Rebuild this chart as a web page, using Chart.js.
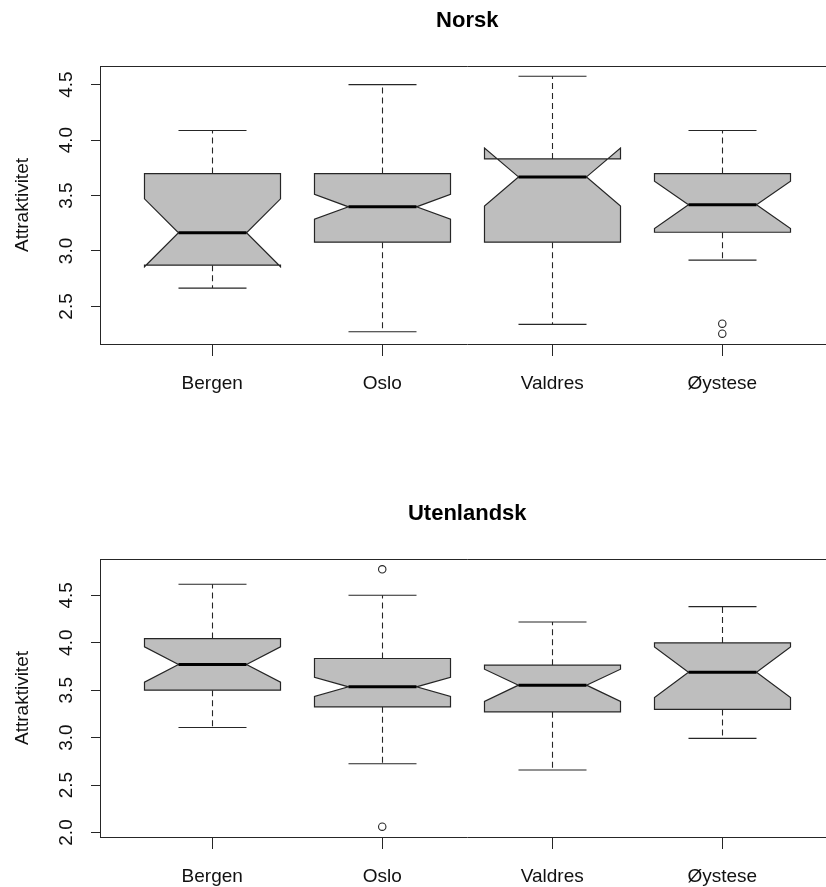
<!DOCTYPE html>
<html>
<head>
<meta charset="utf-8">
<script src="https://cdn.jsdelivr.net/npm/chart.js@4.4.1/dist/chart.umd.min.js"></script>
<style>
  html, body { margin: 0; padding: 0; background: #fff; }
  body { position: relative; width: 826px; height: 887px; overflow: hidden; }
  .panel { position: absolute; left: 0; width: 845px; height: 443px; }
  #panelNorsk { top: 0; }
  #panelUten { top: 493px; }
</style>
</head>
<body>
<div class="panel" id="panelNorsk"><canvas id="norsk" width="845" height="443"></canvas></div>
<div class="panel" id="panelUten"><canvas id="uten" width="845" height="443"></canvas></div>
<script>
// Groups on the x axis
const categories = ['Bergen', 'Oslo', 'Valdres', 'Øystese'];

// Norsk: whisker ends, quartiles, medians, notch limits and outliers
const norskLower     = [2.665, 2.272, 2.338, 2.917];
const norskQ1        = [2.872, 3.079, 3.079, 3.169];
const norskMedian    = [3.164, 3.398, 3.668, 3.416];
const norskQ3        = [3.698, 3.698, 3.830, 3.698];
const norskUpper     = [4.086, 4.500, 4.575, 4.086];
const norskNotchLow  = [2.858, 3.286, 3.406, 3.203];
const norskNotchHigh = [3.470, 3.510, 3.928, 3.629];
const norskOutliers  = [[], [], [], [2.344, 2.254]];
const norskTicks     = [2.5, 3.0, 3.5, 4.0, 4.5];

// Utenlandsk
const utenLower     = [3.107, 2.724, 2.658, 2.992];
const utenQ1        = [3.500, 3.324, 3.272, 3.297];
const utenMedian    = [3.770, 3.535, 3.553, 3.689];
const utenQ3        = [4.044, 3.834, 3.763, 3.998];
const utenUpper     = [4.616, 4.500, 4.219, 4.381];
const utenNotchLow  = [3.584, 3.433, 3.381, 3.423];
const utenNotchHigh = [3.956, 3.635, 3.721, 3.956];
const utenOutliers  = [[], [4.774, 2.061], [], []];
const utenTicks     = [2.0, 2.5, 3.0, 3.5, 4.0, 4.5];

const FONT = '"Liberation Sans", Arial, Helvetica, sans-serif';
const LINE = '#262626';
const BOX_FILL = '#bebebe';

// Draws the notched boxes, whiskers and staples from the stats arrays,
// plus the rotated y tick labels, the y title and the frame's top edge.
const notchedBoxPlugin = {
  id: 'notchedBoxes',
  beforeDatasetsDraw(chart, args, opts) {
    const { ctx, chartArea } = chart;
    const xs = chart.scales.x, ys = chart.scales.y;
    const s = opts.stats;
    ctx.save();
    ctx.beginPath();
    ctx.rect(chartArea.left, chartArea.top, chartArea.right - chartArea.left, chartArea.bottom - chartArea.top);
    ctx.clip();
    for (let i = 0; i < categories.length; i++) {
      const cx = Math.round(xs.getPixelForValue(i + 1)) + 0.5;
      const hw = xs.getPixelForValue(i + 1 + 0.4) - xs.getPixelForValue(i + 1);   // half box width
      const sw = xs.getPixelForValue(i + 1 + 0.2) - xs.getPixelForValue(i + 1);   // half staple width
      const py = v => ys.getPixelForValue(v);
      const lo = py(s.lower[i]), q1 = py(s.q1[i]), md = py(s.median[i]);
      const q3 = py(s.q3[i]), hi = py(s.upper[i]);
      const nl = py(s.notchLow[i]), nh = py(s.notchHigh[i]);

      // dashed whiskers
      ctx.strokeStyle = LINE;
      ctx.lineWidth = 1.1;
      ctx.setLineDash([6, 4]);
      ctx.beginPath();
      ctx.moveTo(cx, q1); ctx.lineTo(cx, lo);
      ctx.moveTo(cx, q3); ctx.lineTo(cx, hi);
      ctx.stroke();
      ctx.setLineDash([]);

      // staples
      ctx.beginPath();
      ctx.moveTo(cx - sw, lo); ctx.lineTo(cx + sw, lo);
      ctx.moveTo(cx - sw, hi); ctx.lineTo(cx + sw, hi);
      ctx.stroke();

      // notched box
      const pts = [
        [cx - hw, q1], [cx - hw, nl], [cx - hw / 2, md], [cx - hw, nh], [cx - hw, q3],
        [cx + hw, q3], [cx + hw, nh], [cx + hw / 2, md], [cx + hw, nl], [cx + hw, q1]
      ];
      ctx.beginPath();
      pts.forEach((p, k) => k ? ctx.lineTo(p[0], p[1]) : ctx.moveTo(p[0], p[1]));
      ctx.closePath();
      ctx.fillStyle = BOX_FILL;
      ctx.fill();
      ctx.strokeStyle = LINE;
      ctx.lineWidth = 1.2;
      ctx.stroke();

      // median
      ctx.beginPath();
      ctx.moveTo(cx - hw / 2, md); ctx.lineTo(cx + hw / 2, md);
      ctx.strokeStyle = '#000';
      ctx.lineWidth = 3;
      ctx.lineCap = 'butt';
      ctx.stroke();
    }
    ctx.restore();
  },
  afterDraw(chart, args, opts) {
    const { ctx, chartArea } = chart;
    const ys = chart.scales.y;
    ctx.save();
    // top and right edges of the frame
    ctx.strokeStyle = LINE;
    ctx.lineWidth = 1;
    ctx.beginPath();
    ctx.moveTo(chartArea.left, Math.round(chartArea.top) + 0.5);
    ctx.lineTo(chartArea.right, Math.round(chartArea.top) + 0.5);
    ctx.lineTo(chartArea.right, chartArea.bottom);
    ctx.stroke();

    // rotated y tick labels
    ctx.fillStyle = '#111';
    ctx.font = '19px ' + FONT;
    ctx.textAlign = 'center';
    ctx.textBaseline = 'middle';
    opts.ticks.forEach(v => {
      const y = ys.getPixelForValue(v);
      ctx.save();
      ctx.translate(67, y);
      ctx.rotate(-Math.PI / 2);
      ctx.fillText(v.toFixed(1), 0, 0);
      ctx.restore();
    });

    // y axis title
    ctx.save();
    ctx.translate(23, (chartArea.top + chartArea.bottom) / 2);
    ctx.rotate(-Math.PI / 2);
    ctx.fillText('Attraktivitet', 0, 0);
    ctx.restore();
    ctx.restore();
  }
};

function yRange(lower, upper, outliers) {
  const vals = [].concat(lower, upper, ...outliers);
  const mn = Math.min(...vals), mx = Math.max(...vals);
  const pad = (mx - mn) * 0.04;
  return [mn - pad, mx + pad];
}

function makeChart(canvasId, title, stats, outliers, ticks) {
  const [ymin, ymax] = yRange(stats.lower, stats.upper, outliers);
  const outlierPoints = [];
  outliers.forEach((list, i) => list.forEach(v => outlierPoints.push({ x: i + 1, y: v })));

  return new Chart(document.getElementById(canvasId), {
    type: 'scatter',
    data: {
      datasets: [{
        label: 'outliers',
        data: outlierPoints,
        pointStyle: 'circle',
        pointRadius: 3.7,
        pointHoverRadius: 3.7,
        pointBackgroundColor: 'rgba(255,255,255,0)',
        pointBorderColor: LINE,
        pointBorderWidth: 1.1
      }]
    },
    options: {
      responsive: false,
      animation: false,
      events: [],
      layout: { padding: { left: 0, right: 10.5, top: 0, bottom: 0 } },
      plugins: {
        legend: { display: false },
        tooltip: { enabled: false },
        title: {
          display: true,
          text: title,
          fullSize: false,
          color: '#000',
          font: { family: FONT, size: 22, weight: 'bold', lineHeight: 1.2 },
          padding: { top: 8, bottom: 31.6 }
        },
        notchedBoxes: { stats, ticks }
      },
      scales: {
        x: {
          type: 'linear',
          min: 0.34,
          max: 4.66,
          afterBuildTicks: scale => { scale.ticks = categories.map((c, i) => ({ value: i + 1 })); },
          afterFit: scale => { scale.height = 99; },
          ticks: {
            callback: v => categories[Math.round(v) - 1],
            autoSkip: false,
            maxRotation: 0,
            minRotation: 0,
            padding: 16,
            color: '#111',
            font: { family: FONT, size: 19 }
          },
          grid: { display: true, drawOnChartArea: false, drawTicks: true, tickLength: 12, color: LINE, lineWidth: 1 },
          border: { display: true, color: LINE, width: 1 }
        },
        y: {
          type: 'linear',
          min: ymin,
          max: ymax,
          afterBuildTicks: scale => { scale.ticks = ticks.map(v => ({ value: v })); },
          afterFit: scale => { scale.width = 100; },
          ticks: { display: false },
          grid: { display: true, drawOnChartArea: false, drawTicks: true, tickLength: 9, color: LINE, lineWidth: 1 },
          border: { display: true, color: LINE, width: 1 }
        }
      }
    },
    plugins: [notchedBoxPlugin]
  });
}

makeChart('norsk', 'Norsk', {
  lower: norskLower, q1: norskQ1, median: norskMedian, q3: norskQ3, upper: norskUpper,
  notchLow: norskNotchLow, notchHigh: norskNotchHigh
}, norskOutliers, norskTicks);

makeChart('uten', 'Utenlandsk', {
  lower: utenLower, q1: utenQ1, median: utenMedian, q3: utenQ3, upper: utenUpper,
  notchLow: utenNotchLow, notchHigh: utenNotchHigh
}, utenOutliers, utenTicks);
</script>
</body>
</html>
